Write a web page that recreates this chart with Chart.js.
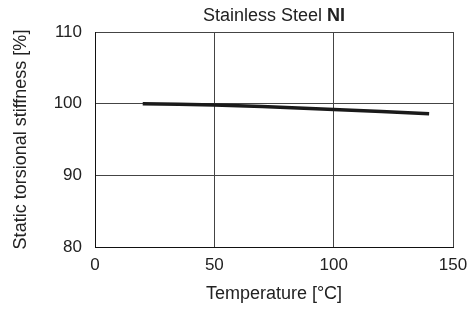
<!DOCTYPE html>
<html>
<head>
<meta charset="utf-8">
<script src="https://cdn.jsdelivr.net/npm/chart.js@4"></script>
<style>
  html, body { margin: 0; padding: 0; background: #fff; }
  #wrap { width: 476px; height: 311px; }
</style>
</head>
<body>
<div id="wrap"><canvas id="chart" width="476" height="311"></canvas></div>
<script>
// data
const temps = [20, 50, 70, 100, 140];
const stiffness = [100, 99.8, 99.6, 99.2, 98.6];
const xTicks = [0, 50, 100, 150];
const yTicks = [80, 90, 100, 110];

const FONT = '"Liberation Sans", Arial, Helvetica, sans-serif';

// title with bold "NI" drawn by hand (Chart.js title can't mix weights)
const mixedTitle = {
  id: 'mixedTitle',
  afterDraw(chart) {
    const ctx = chart.ctx;
    const area = chart.chartArea;
    const cx = (area.left + area.right) / 2;
    ctx.save();
    ctx.fillStyle = '#222';
    ctx.textBaseline = 'alphabetic';
    const a = 'Stainless Steel ';
    const b = 'NI';
    ctx.font = '18px ' + FONT;
    const wa = ctx.measureText(a).width;
    ctx.font = 'bold 18px ' + FONT;
    const wb = ctx.measureText(b).width;
    let x = cx - (wa + wb) / 2;
    ctx.font = '18px ' + FONT;
    ctx.fillText(a, x, 21);
    ctx.font = 'bold 18px ' + FONT;
    ctx.fillText(b, x + wa, 21);
    ctx.restore();
  }
};

new Chart(document.getElementById('chart'), {
  type: 'line',
  data: {
    datasets: [{
      data: temps.map((t, i) => ({ x: t, y: stiffness[i] })),
      borderColor: '#1a1a1a',
      borderWidth: 3.5,
      pointRadius: 0,
      tension: 0.3,
      fill: false
    }]
  },
  options: {
    responsive: false,
    animation: false,
    layout: { padding: { top: 32, right: 23, left: 0, bottom: 0 } },
    plugins: { legend: { display: false }, tooltip: { enabled: false } },
    scales: {
      x: {
        type: 'linear',
        min: 0, max: 150,
        afterBuildTicks: s => { s.ticks = xTicks.map(v => ({ value: v })); },
        afterFit: s => { s.height = 64; },
        border: { color: '#111', width: 1 },
        grid: { color: '#444', lineWidth: 1, drawTicks: false },
        ticks: { color: '#222', font: { family: FONT, size: 17 }, padding: 8, maxRotation: 0 },
        title: { display: true, text: 'Temperature [°C]', color: '#222', font: { family: FONT, size: 18 }, padding: { top: 4, bottom: 6 } }
      },
      y: {
        min: 80, max: 110,
        afterBuildTicks: s => { s.ticks = yTicks.map(v => ({ value: v })); },
        afterFit: s => { s.width = 95; },
        border: { color: '#111', width: 1 },
        grid: { color: '#444', lineWidth: 1, drawTicks: false },
        ticks: { color: '#222', font: { family: FONT, size: 17 }, padding: 13 },
        title: { display: true, text: 'Static torsional stiffness [%]', color: '#222', font: { family: FONT, size: 18 }, padding: { top: 10, bottom: 4 } }
      }
    }
  },
  plugins: [mixedTitle]
});
</script>
</body>
</html>
